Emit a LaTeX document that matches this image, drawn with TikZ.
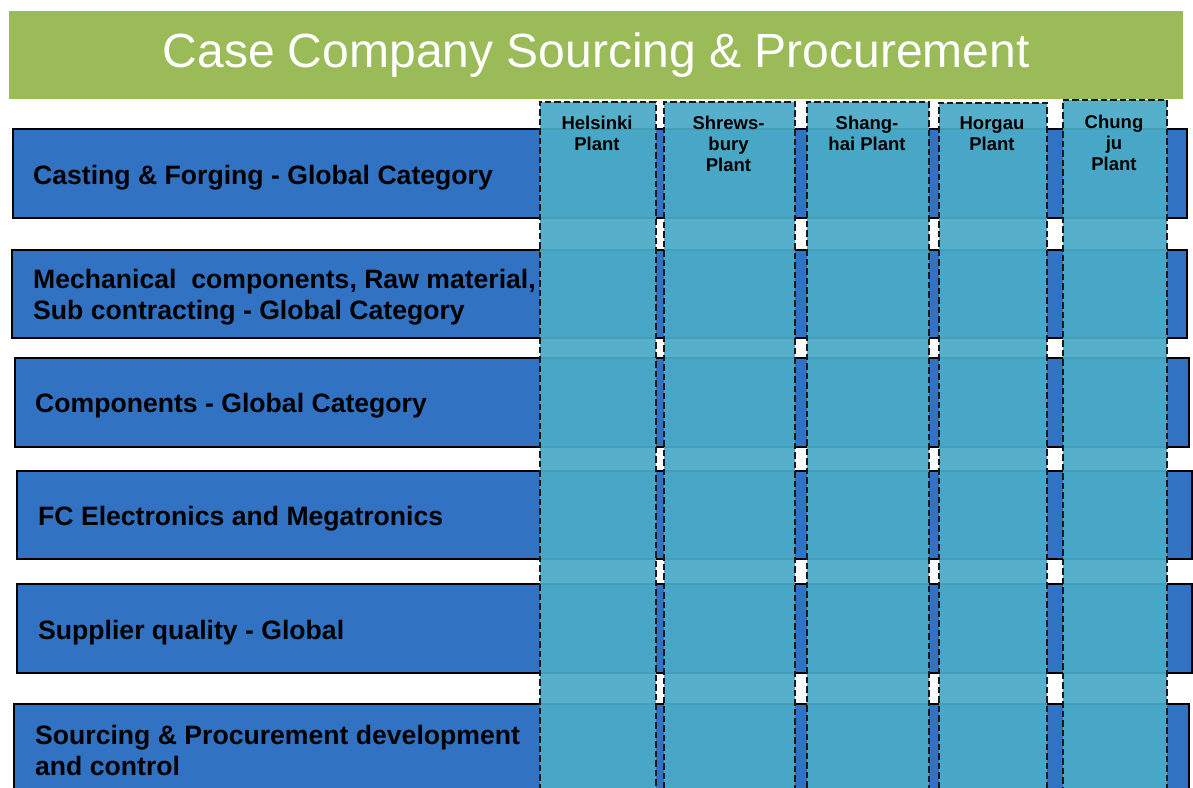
\documentclass[tikz,border=0pt]{standalone}
\usepackage{fontspec}
\setmainfont{Liberation Sans}
\definecolor{barblue}{RGB}{49,114,194}
\definecolor{titlegreen}{RGB}{155,187,89}
\definecolor{colcyan}{RGB}{74,170,199}
\begin{document}
\begin{tikzpicture}[x=1pt,y=-1pt,
  titlebar/.style={fill=titlegreen, anchor=north west, inner sep=0pt, text=white,
    font=\fontsize{48}{56}\selectfont},
  bar/.style={draw=black, line width=1.5pt, fill=barblue, anchor=north west, inner sep=0pt},
  lbl/.style={anchor=west, inner sep=0pt, align=left,
    font=\bfseries\fontsize{26.6}{31}\selectfont},
  col/.style={draw=black!90, dash pattern=on 6.5pt off 3pt, line width=1.5pt,
    fill=colcyan, fill opacity=0.93, anchor=north west, inner sep=0pt},
  hdr/.style={anchor=north, inner sep=0pt, align=center,
    font=\bfseries\fontsize{18.5}{21}\selectfont}]
\useasboundingbox (0,0) rectangle (1193,787);
\clip (0,0) rectangle (1193,787);
% title
\node[titlebar, minimum width=1174pt, minimum height=88pt] (title) at (9,11)
  {Case Company Sourcing \& Procurement};
% category bars
\node[bar, minimum width=1174pt, minimum height=89pt] (r1) at (12,128) {};
\node[bar, minimum width=1175pt, minimum height=88pt] (r2) at (11,249) {};
\node[bar, minimum width=1174pt, minimum height=89pt] (r3) at (14,357) {};
\node[bar, minimum width=1175pt, minimum height=88pt] (r4) at (16,470) {};
\node[bar, minimum width=1175pt, minimum height=89pt] (r5) at (16,583) {};
\node[bar, minimum width=1175pt, minimum height=88pt] (r6) at (13,703) {};
\node[lbl] (t1) at ([xshift=21pt,yshift=-4pt]r1.west) {Casting \& Forging - Global Category};
\node[lbl] (t2) at ([xshift=22pt,yshift=-3pt]r2.west) {Mechanical\ \ components, Raw material,\\Sub contracting - Global Category};
\node[lbl] (t3) at ([xshift=21pt,yshift=-3.5pt]r3.west) {Components - Global Category};
\node[lbl] (t4) at ([xshift=22pt,yshift=-3.5pt]r4.west) {FC Electronics and Megatronics};
\node[lbl] (t5) at ([xshift=22pt,yshift=-4pt]r5.west) {Supplier quality - Global};
\node[lbl] (t6) at ([xshift=22pt,yshift=-2.5pt]r6.west) {Sourcing \& Procurement development\\and control};
% plant columns
\node[col, minimum width=116pt, minimum height=720pt] (c1) at (539,101) {};
\node[col, minimum width=131pt, minimum height=720pt] (c2) at (663,101) {};
\node[col, minimum width=122pt, minimum height=720pt] (c3) at (806,101) {};
\node[col, minimum width=108pt, minimum height=720pt] (c4) at (938,102) {};
\node[col, minimum width=104pt, minimum height=720pt] (c5) at (1062,99) {};
% headers
\node[hdr] (h1) at (597,116) {Helsinki\\Plant};
\node[hdr] (h2) at (728.5,116) {Shrews-\\bury\\Plant};
\node[hdr] (h3) at (867,116) {Shang-\\hai Plant};
\node[hdr] (h4) at (992,117) {Horgau\\Plant};
\node[hdr] (h5) at (1114,115) {Chung\\ju\\Plant};
\end{tikzpicture}
\end{document}
